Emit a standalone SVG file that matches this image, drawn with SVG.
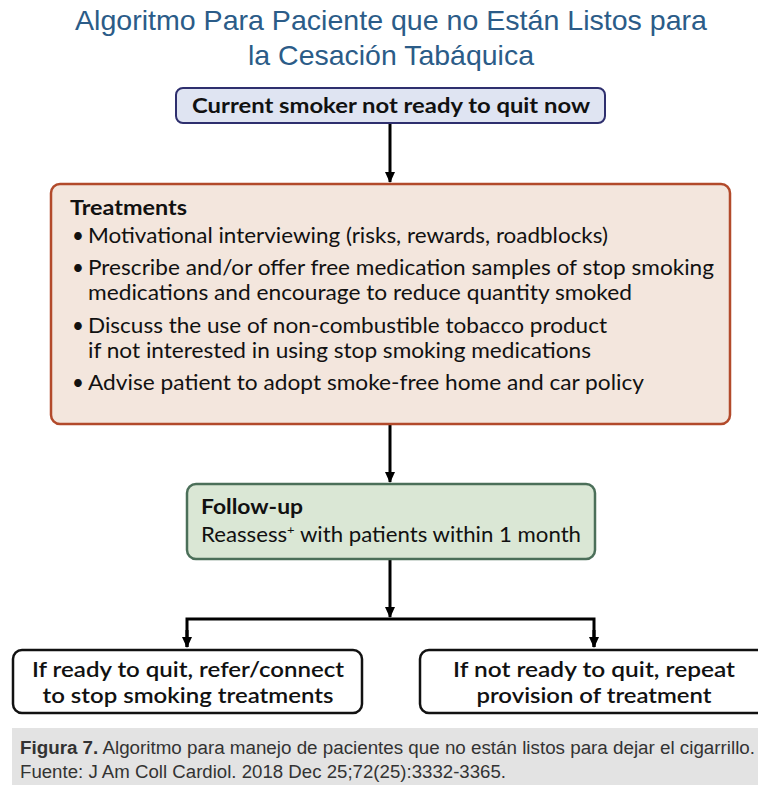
<svg xmlns="http://www.w3.org/2000/svg" width="758" height="785" viewBox="0 0 758 785">
  <style>
    .title { font-family: "Liberation Sans", Arial, sans-serif; font-size: 28px; fill: #2b5c88; text-anchor: middle; }
    .node-text { font-family: Lato, "Open Sans", sans-serif; font-size: 20.5px; fill: #111; }
    .bold { font-weight: 700; }
    .semi { font-weight: 600; }
    .mid { text-anchor: middle; }
    .conn { stroke: #000; stroke-width: 3; fill: none; }
    .caption { font-family: "Liberation Sans", Arial, sans-serif; font-size: 18px; fill: #333; }
  </style>
  <defs>
    <marker id="arrow" markerWidth="12" markerHeight="10" refX="10" refY="5" orient="auto" markerUnits="userSpaceOnUse">
      <path d="M0,0 L11,5 L0,10 Z" fill="#000"/>
    </marker>
  </defs>

  <rect x="0" y="0" width="758" height="785" fill="#ffffff"/>

  <!-- Title -->
  <g id="title">
    <text class="title" x="391" y="30" textLength="632" lengthAdjust="spacingAndGlyphs">Algoritmo Para Paciente que no Están Listos para</text>
    <text class="title" x="391" y="65" textLength="286" lengthAdjust="spacingAndGlyphs">la Cesación Tabáquica</text>
  </g>

  <!-- Connectors -->
  <g id="connectors">
    <line class="conn" x1="390" y1="124" x2="390" y2="182" marker-end="url(#arrow)"/>
    <line class="conn" x1="390" y1="425" x2="390" y2="482" marker-end="url(#arrow)"/>
    <line class="conn" x1="390" y1="560" x2="390" y2="617" marker-end="url(#arrow)"/>
    <polyline class="conn" points="187,647 187,619 594,619 594,647"/>
    <line class="conn" x1="187" y1="630" x2="187" y2="647" marker-end="url(#arrow)"/>
    <line class="conn" x1="594" y1="630" x2="594" y2="647" marker-end="url(#arrow)"/>
  </g>

  <!-- Start node -->
  <g id="node-start">
    <rect x="176" y="88" width="429" height="35" rx="7" fill="#dfe4f2" stroke="#2e2f6e" stroke-width="2"/>
    <text class="node-text bold mid" x="391" y="113" textLength="398" lengthAdjust="spacingAndGlyphs">Current smoker not ready to quit now</text>
  </g>

  <!-- Treatments node -->
  <g id="node-treatments">
    <rect x="51" y="184" width="679" height="240" rx="9" fill="#f3e6dd" stroke="#b24a2b" stroke-width="2.5"/>
    <text class="node-text bold" x="70" y="215" textLength="117" lengthAdjust="spacingAndGlyphs">Treatments</text>
    <text class="node-text" x="72" y="243">•</text>
    <text class="node-text" x="88" y="243" textLength="520" lengthAdjust="spacingAndGlyphs">Motivational interviewing (risks, rewards, roadblocks)</text>
    <text class="node-text" x="72" y="275">•</text>
    <text class="node-text" x="88" y="275" textLength="626" lengthAdjust="spacingAndGlyphs">Prescribe and/or offer free medication samples of stop smoking</text>
    <text class="node-text" x="88" y="300" textLength="544" lengthAdjust="spacingAndGlyphs">medications and encourage to reduce quantity smoked</text>
    <text class="node-text" x="72" y="333">•</text>
    <text class="node-text" x="88" y="333" textLength="519" lengthAdjust="spacingAndGlyphs">Discuss the use of non-combustible tobacco product</text>
    <text class="node-text" x="88" y="358" textLength="503" lengthAdjust="spacingAndGlyphs">if not interested in using stop smoking medications</text>
    <text class="node-text" x="72" y="390">•</text>
    <text class="node-text" x="88" y="390" textLength="556" lengthAdjust="spacingAndGlyphs">Advise patient to adopt smoke-free home and car policy</text>
  </g>

  <!-- Follow-up node -->
  <g id="node-followup">
    <rect x="187" y="484" width="408" height="75" rx="9" fill="#dae7d5" stroke="#4b6f59" stroke-width="2.5"/>
    <text class="node-text bold" x="201" y="514" textLength="102" lengthAdjust="spacingAndGlyphs">Follow-up</text>
    <text class="node-text" x="201" y="542" textLength="380" lengthAdjust="spacingAndGlyphs">Reassess<tspan font-size="12" dy="-8">+</tspan><tspan dy="8"> with patients within 1 month</tspan></text>
  </g>

  <!-- Outcome: ready -->
  <g id="node-ready">
    <rect x="13" y="650" width="349" height="63" rx="9" fill="#ffffff" stroke="#111" stroke-width="2.5"/>
    <text class="node-text semi mid" x="188" y="677" textLength="312" lengthAdjust="spacingAndGlyphs">If ready to quit, refer/connect</text>
    <text class="node-text semi mid" x="188" y="703" textLength="291" lengthAdjust="spacingAndGlyphs">to stop smoking treatments</text>
  </g>

  <!-- Outcome: not ready -->
  <g id="node-not-ready">
    <rect x="420" y="650" width="346" height="63" rx="9" fill="#ffffff" stroke="#111" stroke-width="2.5"/>
    <text class="node-text semi mid" x="594" y="677" textLength="282" lengthAdjust="spacingAndGlyphs">If not ready to quit, repeat</text>
    <text class="node-text semi mid" x="594" y="703" textLength="235" lengthAdjust="spacingAndGlyphs">provision of treatment</text>
  </g>

  <!-- Caption band -->
  <g id="caption">
    <rect x="12" y="728" width="746" height="57" fill="#e3e3e3"/>
    <text class="caption" x="20" y="754" textLength="735" lengthAdjust="spacingAndGlyphs"><tspan font-weight="700">Figura 7.</tspan> Algoritmo para manejo de pacientes que no están listos para dejar el cigarrillo.</text>
    <text class="caption" x="20" y="778" textLength="486" lengthAdjust="spacingAndGlyphs">Fuente: J Am Coll Cardiol. 2018 Dec 25;72(25):3332-3365.</text>
  </g>
</svg>
